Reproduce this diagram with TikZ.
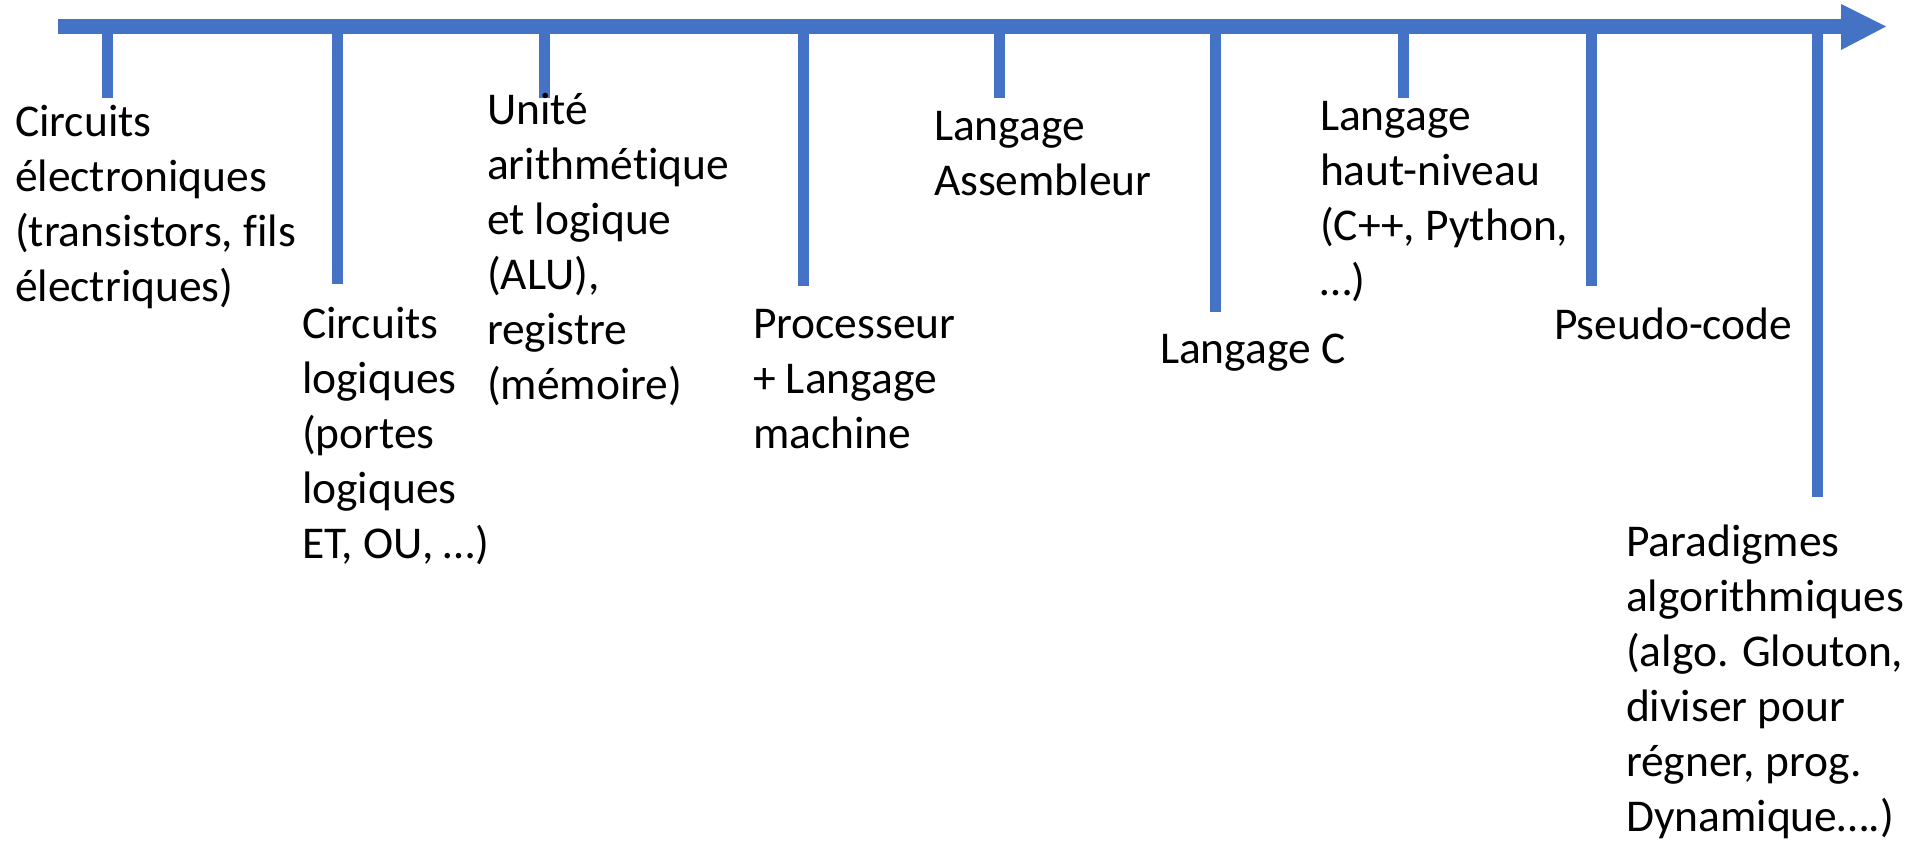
\documentclass[tikz,border=0pt]{standalone}
\usepackage{fontspec}
\setmainfont{Carlito}[Ligatures=NoCommon]
\definecolor{axisblue}{HTML}{4472C4}
\begin{document}
\begin{tikzpicture}[x=0.5pt,y=-0.5pt,
  axisline/.style={draw=axisblue,line width=7.5pt},
  tickline/.style={draw=axisblue,line width=5.5pt},
  label/.style={anchor=base west,inner sep=0pt,outer sep=0pt,
    font=\fontsize{22.75pt}{27.5pt}\selectfont}]
\useasboundingbox (0,0) rectangle (1925,842);

% timeline axis with its arrow head
\coordinate (start) at (58,26.5);
\coordinate (head) at (1841,26.5);
\draw[axisline] (start) -- (head);
\fill[axisblue] (1841,4) -- (1886,26.5) -- (1841,50) -- cycle;

% ticks hanging from the axis
\foreach \n/\x/\y in {1/107/98, 2/337/284, 3/544/98, 4/803/286, 5/999/98,
                      6/1215/312, 7/1403/98, 8/1591/286, 9/1817/497} {
  \coordinate (top\n) at (\x,26.5);
  \coordinate (end\n) at (\x,\y);
  \draw[tickline] (top\n) -- (end\n);
}

% labels
\node[label] (l1) at (15,136) {\begin{tabular}[t]{@{}l@{}}Circuits\\électroniques\\(transistors, fils\\électriques)\end{tabular}};
\node[label] (l2) at (302,338) {\begin{tabular}[t]{@{}l@{}}Circuits\\logiques\\(portes\\logiques\\ET, OU, …)\end{tabular}};
\node[label] (l3) at (487,124) {\begin{tabular}[t]{@{}l@{}}Unité\\arithmétique\\et logique\\(ALU),\\registre\\(mémoire)\end{tabular}};
\node[label] (l4) at (753,338) {\begin{tabular}[t]{@{}l@{}}Processeur\\+ Langage\\machine\end{tabular}};
\node[label] (l5) at (934,140) {\begin{tabular}[t]{@{}l@{}}Langage\\Assembleur\end{tabular}};
\node[label] (l6) at (1160,363) {Langage C};
\node[label] (l7) at (1320,130) {\begin{tabular}[t]{@{}l@{}}Langage\\haut-niveau\\(C++, Python,\\…)\end{tabular}};
\node[label] (l8) at (1554,339) {Pseudo-code};
\node[label] (l9) at (1626,556) {\begin{tabular}[t]{@{}l@{}}Paradigmes\\algorithmiques\\(algo. Glouton,\\diviser pour\\régner, prog.\\Dynamique….)\end{tabular}};
\end{tikzpicture}
\end{document}
